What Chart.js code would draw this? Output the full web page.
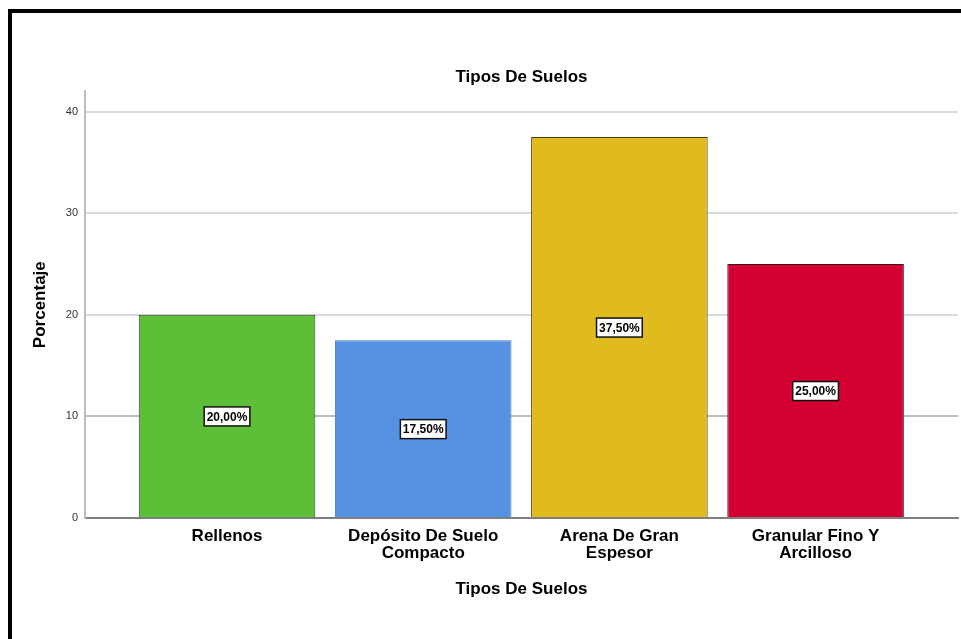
<!DOCTYPE html>
<html>
<head>
<meta charset="utf-8">
<script src="https://cdn.jsdelivr.net/npm/chart.js@4"></script>
<style>
  html, body { margin: 0; padding: 0; background: #fff; }
  #wrap { width: 961px; height: 639px; position: relative; }
</style>
</head>
<body>
<div id="wrap"><canvas id="chart" width="961" height="639"></canvas></div>
<script>
// data
const categories = ['Rellenos', 'Depósito De Suelo Compacto', 'Arena De Gran Espesor', 'Granular Fino Y Arcilloso'];
const tickLabels = [['Rellenos'], ['Depósito De Suelo', 'Compacto'], ['Arena De Gran', 'Espesor'], ['Granular Fino Y', 'Arcilloso']];
const percentages = [20.0, 17.5, 37.5, 25.0];
const barColors = ['#5dbe37', '#5593e2', '#dfbb1d', '#d40031'];
const yTicks = [0, 10, 20, 30, 40];

const FONT = "'Liberation Sans', Arial, sans-serif";

// frame + white background
const framePlugin = {
    id: 'frame',
    beforeDraw(chart) {
        const ctx = chart.ctx;
        ctx.save();
        ctx.fillStyle = '#fff';
        ctx.fillRect(0, 0, chart.width, chart.height);
        ctx.restore();
    },
    afterDraw(chart) {
        const ctx = chart.ctx;
        ctx.save();
        ctx.fillStyle = '#000';
        ctx.fillRect(8, 9, chart.width - 8, 4);
        ctx.fillRect(8, 9, 4, chart.height - 9);
        ctx.restore();
    }
};

// boxed percentage labels in the middle of each bar
const valueLabels = {
    id: 'valueLabels',
    afterDatasetsDraw(chart) {
        const ctx = chart.ctx;
        const yScale = chart.scales.y;
        const meta = chart.getDatasetMeta(0);
        ctx.save();
        ctx.font = 'bold 12px ' + FONT;
        ctx.textAlign = 'center';
        ctx.textBaseline = 'middle';
        meta.data.forEach((bar, i) => {
            const v = percentages[i];
            const txt = v.toFixed(2).replace('.', ',') + '%';
            const x = bar.x;
            const y = yScale.getPixelForValue(v / 2);
            const w = ctx.measureText(txt).width + 5;
            const h = 19;
            ctx.fillStyle = '#fff';
            ctx.fillRect(x - w / 2, y - h / 2, w, h);
            ctx.lineWidth = 1.5;
            ctx.strokeStyle = '#111';
            ctx.strokeRect(x - w / 2, y - h / 2, w, h);
            ctx.fillStyle = '#000';
            ctx.fillText(txt, x, y + 1);
        });
        ctx.restore();
    }
};

const ctx = document.getElementById('chart').getContext('2d');
new Chart(ctx, {
    type: 'bar',
    data: {
        datasets: [{
            label: 'Porcentaje',
            data: percentages.map((v, i) => ({ x: i, y: v })),
            backgroundColor: barColors,
            borderColor: ['#3a3a3a', '#4a7fc4', '#4a3a1a', '#3a1a1a'],
            borderWidth: 1,
            barPercentage: 0.9,
            categoryPercentage: 1.0
        }]
    },
    options: {
        responsive: false,
        animation: false,
        layout: { padding: { left: 0, right: 3, top: 0, bottom: 0 } },
        plugins: {
            legend: { display: false },
            tooltip: { enabled: false },
            title: {
                display: true,
                text: 'Tipos De Suelos',
                fullSize: false,
                color: '#000',
                font: { family: FONT, size: 17, weight: 'bold' },
                padding: { top: 67, bottom: 4 }
            }
        },
        scales: {
            x: {
                type: 'linear',
                min: -0.724,
                max: 3.726,
                offset: false,
                afterBuildTicks: (scale) => { scale.ticks = categories.map((c, i) => ({ value: i })); },
                afterFit: (scale) => { scale.height = 121; },
                grid: { drawOnChartArea: false, drawTicks: false, offset: false },
                border: { display: true, color: '#7f7f7f', width: 2 },
                ticks: {
                    autoSkip: false,
                    maxRotation: 0,
                    padding: 9,
                    color: '#000',
                    font: { family: FONT, size: 17, weight: 'bold', lineHeight: 1.05 },
                    callback: (v) => tickLabels[v]
                },
                title: {
                    display: true,
                    text: 'Tipos De Suelos',
                    color: '#000',
                    font: { family: FONT, size: 17, weight: 'bold' },
                    padding: { top: 0, bottom: 39 }
                }
            },
            y: {
                min: 0,
                max: 42,
                afterBuildTicks: (scale) => { scale.ticks = yTicks.map(v => ({ value: v })); },
                afterFit: (scale) => { scale.width = 85; },
                grid: {
                    drawTicks: false,
                    color: (c) => c.tick && c.tick.value === 10 ? '#bdbdbd' : '#dadada',
                    lineWidth: 2
                },
                border: { display: true, color: '#bdbdbd', width: 2 },
                ticks: {
                    padding: 7,
                    color: '#333',
                    font: { family: FONT, size: 11 }
                },
                title: {
                    display: true,
                    text: 'Porcentaje',
                    color: '#000',
                    font: { family: FONT, size: 17, weight: 'bold' },
                    padding: { top: 30, bottom: 0 }
                }
            }
        }
    },
    plugins: [framePlugin, valueLabels]
});
</script>
</body>
</html>
